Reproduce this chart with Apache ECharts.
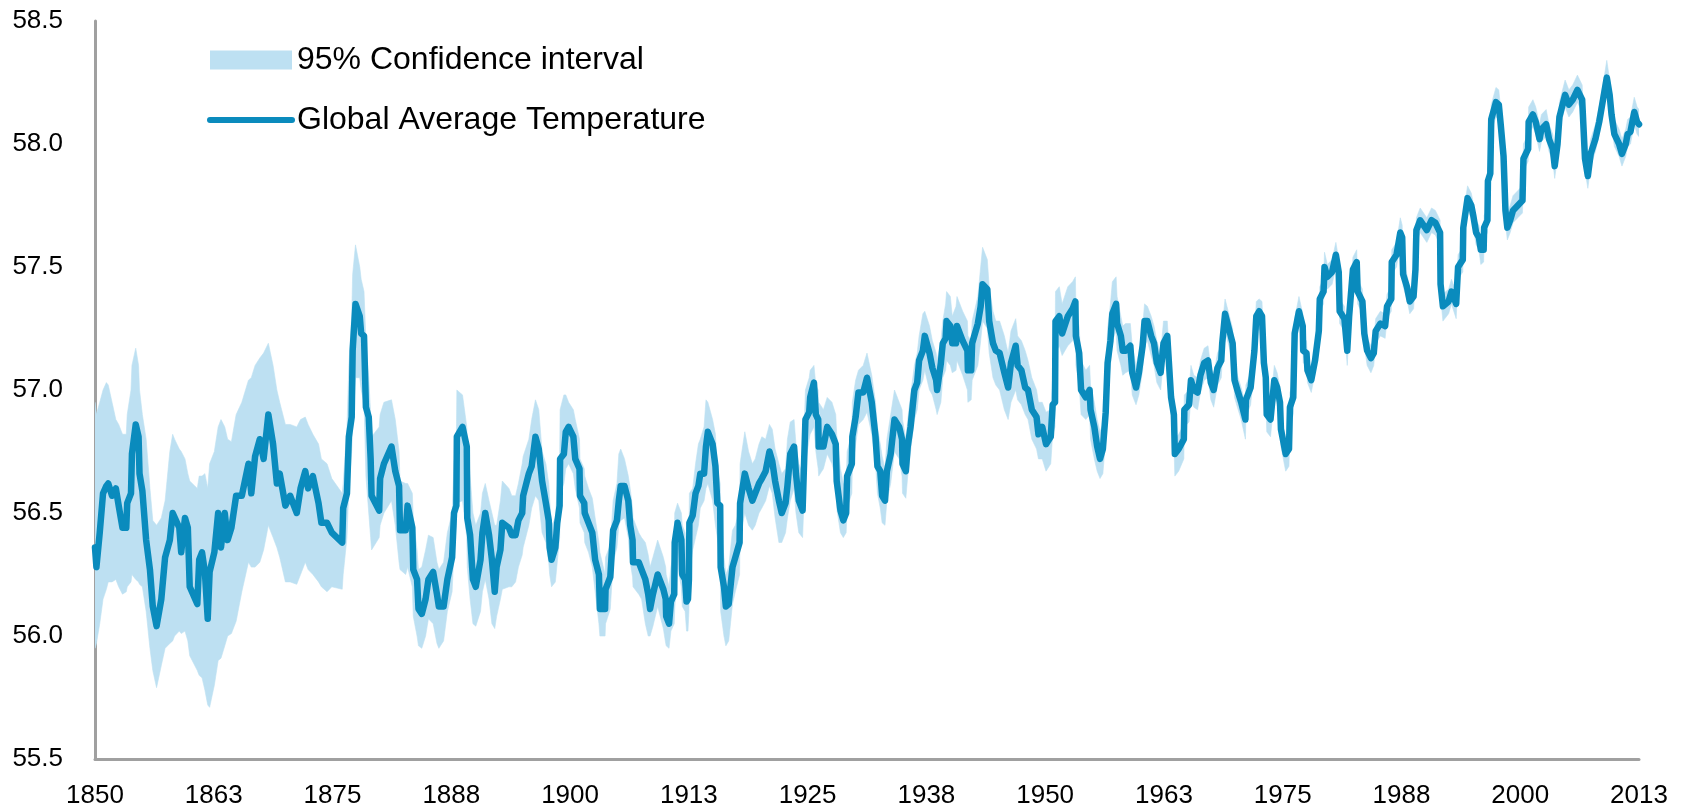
<!DOCTYPE html>
<html>
<head>
<meta charset="utf-8">
<script src="https://cdn.jsdelivr.net/npm/echarts@6/dist/echarts.min.js"></script>
<style>
html,body{margin:0;padding:0;background:#ffffff;}
#chart{width:1685px;height:810px;}
</style>
</head>
<body>
<div id="chart"></div>
<script>
// ---------------- DATA ----------------
const startYear = 1850;
const endYear = 2013;
const xTickLabels = ['1850','1863','1875','1888','1900','1913','1925','1938','1950','1963','1975','1988','2000','2013'];
const yTickLabels = ['55.5','56.0','56.5','57.0','57.5','58.0','58.5'];

const years = [
1850.0,1850.15,1850.5,1850.85,1851.2,1851.4,1851.8,1852.2,1852.5,1852.9,1853.3,1853.4,1853.8,1853.9,1854.3,1854.6,1854.7,1855.0,1855.4,1855.8,1856.1,1856.5,1857.0,1857.4,1857.9,1858.2,1858.4,1858.9,1859.1,1859.5,1859.8,1860.0,1860.8,1861.0,1861.3,1861.6,1861.9,1862.1,1862.6,1863.0,1863.3,1863.7,1864.0,1864.4,1864.9,
1865.5,1866.2,1866.5,1866.9,1867.4,1867.8,1868.3,1868.8,1869.2,1869.5,1870.1,1870.6,1871.3,1871.7,1872.2,1872.5,1873.0,1873.6,1873.9,1874.5,1875.0,1876.1,1876.2,1876.6,1876.8,1877.1,1877.2,1877.5,1877.95,1878.1,1878.4,1878.6,1878.9,1879.1,1879.2,1880.0,1880.1,1880.5,
1881.3,1881.7,1882.1,1882.2,1882.8,1883.0,1883.5,1883.6,1884.0,1884.15,1884.5,1884.9,1885.2,1885.7,1886.1,1886.3,1886.8,1887.2,1887.7,1887.9,1888.15,1888.2,1888.8,1889.25,1889.3,1889.6,1889.9,1890.2,1890.7,1890.9,1891.2,1891.6,1891.9,1892.2,1892.4,1892.8,1893.0,1893.7,1894.0,1894.4,1894.7,1895.1,1895.2,1895.8,1896.1,1896.5,1896.85,1897.2,1897.6,
1897.9,1898.0,1898.2,1898.6,1898.8,1899.05,1899.1,1899.5,1899.7,1900.0,1900.5,1900.7,1901.15,1901.2,1901.65,1901.7,1902.1,1902.5,1902.8,1903.2,1903.3,1903.85,1903.9,1904.4,1904.7,1905.1,1905.3,1905.5,1905.9,1906.3,1906.5,1906.75,1906.8,1907.4,1907.7,1908.1,1908.4,1908.6,1908.9,1909.4,1910.0,1910.25,1910.3,1910.6,1910.8,1911.15,1911.2,1911.5,1911.9,1912.0,1912.3,1912.45,1912.6,1912.7,1912.75,1913.1,
1913.4,1913.7,1913.9,1914.3,1914.5,1914.7,1915.2,1915.5,1915.7,1916.0,1916.05,1916.4,1916.6,1916.9,1917.3,1917.6,1918.05,1918.1,1918.6,1919.0,1919.4,1919.7,1920.1,1920.4,1920.8,1921.2,1921.5,1921.8,1922.2,1922.5,1922.9,1923.1,1923.4,1923.8,1924.0,1924.3,1924.7,1925.0,1925.4,1925.5,1925.9,1926.1,1926.35,1926.4,1926.9,1927.3,1927.8,1928.2,1928.3,1928.7,1929.0,1929.3,
1929.4,1929.9,1929.95,1930.3,1930.6,1931.1,1931.5,1932.0,1932.4,1932.6,1932.9,1933.1,1933.4,1933.6,1934.0,1934.4,1934.9,1935.2,1935.25,1935.6,1935.8,1936.1,1936.5,1936.8,1937.0,1937.4,1937.6,1938.1,1938.4,1938.8,1938.9,1939.3,1939.5,1939.8,1939.9,1940.3,1940.5,1940.9,1941.0,1941.6,1942.1,1942.15,1942.5,1942.6,1943.2,1943.5,1943.7,1944.2,1944.4,1944.8,1945.1,
1945.5,1946.0,1946.4,1946.7,1947.2,1947.4,1947.8,1948.2,1948.5,1948.9,1949.4,1949.6,1950.0,1950.4,1950.9,1951.1,1951.35,1951.4,1951.8,1952.1,1952.7,1953.2,1953.5,1953.55,1953.9,1954.1,1954.6,1955.0,1955.1,1955.5,1955.8,1956.1,1956.4,1956.7,1956.9,1957.2,1957.4,1957.8,1957.9,1958.3,1958.5,1958.8,1959.3,1959.5,1959.9,1960.2,1960.6,1960.8,
1961.1,1961.5,1961.8,1962.1,1962.5,1962.8,1963.2,1963.6,1963.9,1964.0,1964.4,1964.95,1965.0,1965.5,1965.7,1966.0,1966.4,1966.7,1967.1,1967.5,1967.8,1968.1,1968.5,1968.9,1969.0,1969.3,1969.7,1970.1,1970.3,1970.6,1971.0,1971.45,1971.5,1972.0,1972.4,1972.6,1972.9,1973.2,1973.4,1973.6,1973.7,1974.1,1974.5,1974.8,1975.1,1975.2,1975.7,1976.05,1976.15,1976.5,1976.65,
1977.1,1977.5,1977.55,1977.9,1978.0,1978.4,1978.8,1979.2,1979.3,1979.7,1979.8,1980.1,1980.6,1981.0,1981.3,1981.4,1981.9,1982.2,1982.4,1982.8,1983.2,1983.3,1983.8,1984.0,1984.3,1984.7,1985.0,1985.2,1985.7,1986.2,1986.4,1986.85,1986.9,1987.4,1987.8,1988.0,1988.1,1988.5,1988.8,1989.2,1989.4,1989.5,1989.9,1990.6,1991.1,1991.5,1992.0,1992.05,1992.3,1992.9,1993.2,1993.7,1993.9,1994.4,1994.45,1994.9,1995.3,1995.5,1995.8,1996.1,1996.3,1996.6,1996.65,
1997.0,1997.05,1997.3,1997.4,1997.9,1998.2,1998.4,1998.7,1998.9,1999.1,1999.4,1999.7,2000.2,2000.7,2000.8,2001.3,2001.35,2001.8,2002.1,2002.5,2002.7,2003.2,2003.5,2003.9,2004.1,2004.4,2004.6,2004.8,2005.2,2005.6,2006.0,2006.5,2007.0,2007.3,2007.6,2007.9,2008.4,2008.8,2009.2,2009.6,2009.9,2010.1,2010.4,2010.9,2011.2,2011.6,2011.8,2012.1,2012.5,2012.8,2013.0
];

const temps = [
56.36,56.28,56.42,56.58,56.61,56.62,56.57,56.60,56.53,56.44,56.44,56.54,56.58,56.74,56.86,56.81,56.66,56.59,56.39,56.27,56.12,56.04,56.15,56.32,56.39,56.50,56.50,56.44,56.34,56.48,56.44,56.20,56.13,56.31,56.34,56.26,56.07,56.26,56.34,56.50,56.36,56.50,56.39,56.44,56.57,
56.57,56.70,56.58,56.73,56.80,56.72,56.90,56.78,56.62,56.66,56.53,56.57,56.50,56.60,56.67,56.60,56.65,56.54,56.46,56.46,56.42,56.38,56.52,56.58,56.81,56.89,57.16,57.35,57.30,57.23,57.22,56.93,56.89,56.72,56.57,56.51,56.64,56.70,
56.77,56.67,56.61,56.43,56.43,56.53,56.44,56.27,56.23,56.11,56.09,56.15,56.23,56.26,56.17,56.12,56.12,56.23,56.32,56.50,56.53,56.81,56.85,56.77,56.48,56.41,56.23,56.20,56.31,56.42,56.50,56.41,56.31,56.18,56.28,56.35,56.46,56.44,56.41,56.41,56.47,56.50,56.57,56.66,56.69,56.81,56.76,56.63,56.54,
56.47,56.36,56.31,56.36,56.46,56.53,56.72,56.74,56.83,56.85,56.81,56.72,56.68,56.57,56.54,56.50,56.46,56.42,56.31,56.25,56.11,56.11,56.19,56.24,56.43,56.47,56.55,56.61,56.61,56.55,56.45,56.39,56.30,56.30,56.27,56.23,56.17,56.11,56.17,56.25,56.19,56.15,56.08,56.05,56.14,56.17,56.38,56.46,56.39,56.25,56.23,56.14,56.15,56.23,56.46,56.49,
56.58,56.61,56.66,56.66,56.77,56.83,56.78,56.69,56.54,56.53,56.28,56.20,56.12,56.13,56.28,56.32,56.38,56.54,56.66,56.60,56.55,56.58,56.62,56.64,56.67,56.75,56.71,56.63,56.55,56.50,56.54,56.61,56.74,56.77,56.66,56.55,56.51,56.88,56.91,56.97,57.03,56.90,56.88,56.77,56.77,56.85,56.82,56.78,56.63,56.51,56.47,56.50,
56.65,56.70,56.81,56.89,56.99,56.99,57.05,56.95,56.81,56.69,56.67,56.57,56.55,56.67,56.74,56.88,56.85,56.80,56.70,56.67,56.77,56.85,57.00,57.03,57.12,57.16,57.22,57.15,57.09,57.04,57.00,57.11,57.19,57.21,57.28,57.26,57.19,57.19,57.26,57.20,57.16,57.08,57.08,57.19,57.27,57.34,57.43,57.41,57.28,57.19,57.16,
57.15,57.07,57.01,57.11,57.18,57.10,57.08,57.01,57.00,56.92,56.89,56.82,56.85,56.78,56.81,56.94,56.95,57.28,57.30,57.23,57.30,57.33,57.36,57.22,57.15,57.00,56.97,57.00,56.92,56.85,56.77,56.72,56.76,56.91,57.11,57.20,57.31,57.35,57.27,57.22,57.16,57.16,57.18,57.07,57.01,57.07,57.18,57.28,
57.28,57.22,57.19,57.11,57.07,57.19,57.22,56.97,56.90,56.74,56.76,56.80,56.92,56.94,57.04,57.00,56.99,57.06,57.11,57.12,57.03,57.00,57.09,57.12,57.19,57.31,57.25,57.19,57.04,57.00,56.95,56.88,56.96,57.01,57.16,57.30,57.32,57.30,57.11,57.05,56.90,56.88,57.04,57.01,56.95,56.84,56.74,56.76,56.93,56.97,57.23,
57.32,57.26,57.16,57.15,57.08,57.04,57.12,57.24,57.37,57.40,57.50,57.46,57.48,57.55,57.48,57.32,57.29,57.16,57.30,57.49,57.52,57.40,57.36,57.23,57.16,57.13,57.15,57.24,57.27,57.26,57.34,57.37,57.52,57.55,57.64,57.62,57.47,57.42,57.36,57.38,57.49,57.65,57.69,57.65,57.69,57.68,57.64,57.43,57.34,57.36,57.40,57.35,57.50,57.53,57.66,57.78,57.75,57.71,57.64,57.62,57.57,57.57,57.66,
57.69,57.85,57.88,58.10,58.17,58.16,58.08,57.95,57.73,57.66,57.69,57.73,57.75,57.77,57.94,57.98,58.09,58.12,58.09,58.02,58.06,58.08,58.02,57.98,57.91,58.00,58.11,58.14,58.20,58.16,58.18,58.22,58.18,57.94,57.87,57.96,58.02,58.09,58.18,58.27,58.20,58.12,58.04,58.00,57.96,58.00,58.04,58.05,58.13,58.09,58.08
];

const ciLow = [
55.95,55.97,56.05,56.15,56.19,56.22,56.22,56.23,56.20,56.17,56.18,56.20,56.22,56.25,56.23,56.22,56.21,56.20,56.10,55.95,55.86,55.79,55.88,55.95,55.97,55.98,56.00,56.02,56.01,56.02,55.98,55.92,55.86,55.84,55.83,55.78,55.72,55.71,55.80,55.90,55.91,55.96,56.00,56.01,56.06,
56.18,56.30,56.28,56.28,56.30,56.35,56.45,56.40,56.36,56.32,56.22,56.22,56.21,56.25,56.30,56.27,56.25,56.22,56.20,56.18,56.20,56.19,56.25,56.40,56.60,56.75,56.85,57.05,57.05,57.00,56.95,56.65,56.50,56.40,56.35,56.40,56.45,56.50,
56.55,56.45,56.30,56.27,56.25,56.28,56.20,56.08,56.00,55.96,55.95,56.00,56.07,56.05,55.97,55.95,55.98,56.10,56.18,56.35,56.45,56.54,56.55,56.40,56.28,56.15,56.05,56.04,56.10,56.18,56.23,56.15,56.05,56.03,56.08,56.15,56.19,56.20,56.20,56.22,56.28,56.33,56.36,56.45,56.52,56.57,56.55,56.42,56.38,
56.30,56.25,56.20,56.22,56.30,56.40,56.58,56.62,56.68,56.70,56.66,56.60,56.52,56.46,56.42,56.38,56.34,56.28,56.18,56.05,56.00,56.00,56.05,56.11,56.30,56.36,56.45,56.47,56.48,56.40,56.30,56.24,56.20,56.17,56.15,56.05,56.00,56.00,56.04,56.12,56.03,55.97,55.96,55.95,56.02,56.05,56.11,56.28,56.20,56.12,56.10,56.02,56.02,56.10,56.25,56.35,
56.40,56.45,56.52,56.55,56.60,56.62,56.55,56.45,56.40,56.30,56.10,56.00,55.96,55.98,56.13,56.18,56.25,56.40,56.50,56.45,56.43,56.45,56.50,56.52,56.55,56.61,56.58,56.48,56.38,56.38,56.42,56.48,56.55,56.60,56.50,56.42,56.40,56.70,56.80,56.82,56.85,56.75,56.68,56.65,56.68,56.74,56.70,56.64,56.52,56.42,56.40,56.42,
56.52,56.58,56.68,56.78,56.86,56.88,56.91,56.82,56.70,56.58,56.52,56.46,56.45,56.55,56.62,56.75,56.72,56.65,56.58,56.56,56.65,56.75,56.88,56.92,57.00,57.04,57.08,57.00,56.98,56.92,56.90,56.95,57.05,57.08,57.12,57.10,57.07,57.08,57.12,57.06,57.00,56.95,56.96,57.04,57.10,57.20,57.28,57.25,57.15,57.05,57.02,
57.00,56.92,56.88,56.95,57.00,56.96,56.94,56.90,56.88,56.80,56.76,56.72,56.72,56.67,56.70,56.82,56.85,57.15,57.18,57.14,57.18,57.20,57.24,57.10,57.02,56.90,56.88,56.90,56.80,56.72,56.67,56.64,56.66,56.80,56.98,57.10,57.20,57.24,57.16,57.10,57.06,57.07,57.08,56.98,56.94,56.98,57.08,57.18,
57.20,57.14,57.10,57.03,57.00,57.12,57.14,56.90,56.78,56.65,56.67,56.72,56.85,56.87,56.97,56.93,56.92,56.99,57.04,57.05,56.96,56.93,57.02,57.05,57.12,57.24,57.18,57.12,56.97,56.93,56.88,56.80,56.89,56.94,57.09,57.23,57.25,57.23,57.04,56.98,56.83,56.81,56.97,56.94,56.88,56.77,56.67,56.69,56.86,56.90,57.16,
57.27,57.21,57.11,57.10,57.03,56.99,57.07,57.19,57.32,57.35,57.45,57.41,57.43,57.50,57.43,57.27,57.24,57.10,57.25,57.44,57.47,57.35,57.31,57.18,57.10,57.07,57.10,57.19,57.22,57.21,57.29,57.32,57.47,57.50,57.59,57.57,57.42,57.37,57.31,57.33,57.44,57.60,57.64,57.60,57.64,57.63,57.59,57.38,57.28,57.31,57.35,57.29,57.45,57.48,57.61,57.73,57.70,57.66,57.59,57.57,57.51,57.52,57.61,
57.64,57.80,57.83,58.05,58.11,58.10,58.02,57.90,57.68,57.61,57.64,57.68,57.70,57.72,57.89,57.93,58.04,58.07,58.04,57.97,58.01,58.03,57.97,57.93,57.86,57.95,58.06,58.09,58.15,58.11,58.13,58.17,58.13,57.89,57.82,57.91,57.97,58.04,58.13,58.22,58.15,58.07,57.99,57.95,57.91,57.95,57.99,58.00,58.08,58.04,58.03
];

const ciHigh = [
56.95,56.90,56.95,57.00,57.03,57.02,56.95,56.88,56.86,56.82,56.82,56.90,57.00,57.10,57.17,57.10,57.00,56.90,56.80,56.60,56.47,56.45,56.48,56.55,56.75,56.82,56.80,56.76,56.75,56.72,56.66,56.63,56.60,56.65,56.65,56.66,56.60,56.70,56.75,56.85,56.88,56.85,56.80,56.79,56.90,
56.95,57.04,57.05,57.10,57.13,57.15,57.19,57.10,57.00,56.95,56.86,56.86,56.85,56.88,56.89,56.86,56.82,56.78,56.72,56.70,56.64,56.58,56.62,56.85,57.10,57.30,57.47,57.59,57.50,57.45,57.40,57.20,57.05,56.90,56.81,56.85,56.90,56.95,
56.96,56.88,56.75,56.63,56.62,56.62,56.58,56.48,56.35,56.27,56.28,56.35,56.41,56.40,56.30,56.27,56.30,56.42,56.50,56.70,56.80,57.00,56.98,56.85,56.79,56.65,56.50,56.45,56.50,56.58,56.62,56.55,56.50,56.45,56.45,56.55,56.63,56.60,56.57,56.57,56.62,56.70,56.73,56.80,56.88,56.96,56.92,56.75,56.70,
56.62,56.55,56.45,56.48,56.60,56.70,56.92,56.98,56.98,56.95,56.92,56.88,56.80,56.72,56.68,56.65,56.60,56.56,56.48,56.38,56.34,56.25,56.32,56.37,56.55,56.62,56.74,56.76,56.72,56.65,56.60,56.52,56.48,56.42,56.40,56.38,56.33,56.28,56.32,56.39,56.32,56.28,56.25,56.20,56.28,56.35,56.50,56.54,56.50,56.45,56.42,56.30,56.32,56.40,56.58,56.60,
56.70,56.78,56.80,56.85,56.96,56.95,56.88,56.82,56.68,56.62,56.45,56.32,56.25,56.28,56.43,56.45,56.52,56.70,56.83,56.75,56.70,56.72,56.78,56.81,56.80,56.86,56.84,56.76,56.70,56.66,56.68,56.80,56.87,56.88,56.78,56.70,56.66,57.00,57.05,57.08,57.10,57.02,57.00,56.95,56.92,56.97,56.95,56.90,56.82,56.68,56.62,56.62,
56.75,56.82,56.95,57.04,57.08,57.10,57.15,57.06,56.95,56.85,56.78,56.73,56.68,56.80,56.90,57.00,56.95,56.92,56.88,56.80,56.88,56.98,57.10,57.15,57.22,57.31,57.32,57.26,57.20,57.15,57.12,57.20,57.28,57.35,57.40,57.38,57.30,57.34,57.38,57.32,57.28,57.22,57.20,57.28,57.38,57.50,57.58,57.53,57.42,57.32,57.28,
57.28,57.22,57.15,57.24,57.29,57.22,57.20,57.16,57.12,57.05,57.00,56.95,56.95,56.91,56.92,57.05,57.10,57.40,57.42,57.35,57.42,57.44,57.46,57.35,57.25,57.12,57.08,57.10,57.02,56.95,56.88,56.83,56.86,57.02,57.25,57.35,57.44,57.46,57.38,57.30,57.26,57.27,57.27,57.18,57.10,57.15,57.26,57.35,
57.34,57.30,57.26,57.20,57.15,57.28,57.28,57.04,56.96,56.80,56.82,56.86,56.98,57.00,57.10,57.06,57.05,57.12,57.17,57.18,57.09,57.06,57.15,57.18,57.26,57.37,57.31,57.25,57.10,57.06,57.01,56.94,57.02,57.07,57.22,57.36,57.37,57.36,57.17,57.11,56.96,56.94,57.10,57.07,57.01,56.90,56.80,56.82,56.99,57.03,57.29,
57.38,57.31,57.21,57.20,57.13,57.09,57.17,57.29,57.42,57.45,57.56,57.51,57.53,57.60,57.53,57.37,57.34,57.21,57.35,57.54,57.57,57.45,57.41,57.28,57.21,57.18,57.20,57.29,57.32,57.31,57.39,57.42,57.57,57.60,57.70,57.67,57.52,57.47,57.41,57.43,57.54,57.70,57.74,57.70,57.74,57.73,57.69,57.48,57.39,57.41,57.45,57.40,57.55,57.58,57.71,57.83,57.80,57.76,57.69,57.67,57.62,57.62,57.71,
57.74,57.90,57.94,58.16,58.23,58.22,58.14,58.01,57.79,57.72,57.75,57.79,57.81,57.83,58.00,58.04,58.15,58.18,58.15,58.08,58.12,58.14,58.08,58.04,57.97,58.06,58.17,58.20,58.26,58.22,58.24,58.28,58.24,58.00,57.93,58.02,58.08,58.15,58.24,58.34,58.26,58.18,58.10,58.06,58.02,58.06,58.10,58.11,58.19,58.15,58.14
];

// ---------------- CHART ----------------
const LINE_COLOR = '#0a8bbd';
const BAND_COLOR = '#bde0f2';
const span = endYear - startYear;

const n = Math.min(years.length, temps.length, ciLow.length, ciHigh.length);
const lineData = [];
const bandData = [];
for (let i = 0; i < n; i++) {
  const x = years[i] - startYear;
  lineData.push([x, temps[i]]);
  bandData.push([x, ciLow[i], ciHigh[i]]);
}

const chart = echarts.init(document.getElementById('chart'), null, {renderer: 'canvas'});
const FONT = '"Liberation Sans", Arial, Helvetica, sans-serif';

// the band is drawn once, as a polygon through the axis scales (api.coord)
function renderBand(params, api) {
  if (params.dataIndex !== 0) return null;
  const pts = [];
  for (let i = 0; i < bandData.length; i++) pts.push(api.coord([bandData[i][0], bandData[i][2]]));
  for (let i = bandData.length - 1; i >= 0; i--) pts.push(api.coord([bandData[i][0], bandData[i][1]]));
  return {
    type: 'polygon',
    shape: {points: pts},
    style: {fill: BAND_COLOR, stroke: BAND_COLOR, lineWidth: 0.6},
    silent: true
  };
}

chart.setOption({
  animation: false,
  backgroundColor: '#ffffff',
  grid: {left: 95, right: 46, top: 21, bottom: 51, containLabel: false},
  legend: {
    orient: 'vertical',
    left: 202,
    top: 37,
    itemWidth: 82,
    itemHeight: 19,
    itemGap: 24,
    selectedMode: false,
    textStyle: {fontFamily: FONT, fontSize: 32, color: '#000', lineHeight: 36},
    data: [
      {name: '95% Confidence interval', icon: 'rect', itemStyle: {color: BAND_COLOR}},
      {name: 'Global Average Temperature', itemStyle: {opacity: 0}, lineStyle: {width: 6, color: LINE_COLOR, cap: 'round'}}
    ]
  },
  xAxis: {
    type: 'value',
    min: 0,
    max: span,
    interval: span / 13,
    axisLine: {show: true, onZero: false, lineStyle: {color: '#a0a0a0', width: 3}},
    axisTick: {show: false},
    splitLine: {show: false},
    axisLabel: {
      fontFamily: FONT, fontSize: 26, color: '#000', margin: 24,
      showMinLabel: true, showMaxLabel: true,
      formatter: function (v, idx) { return xTickLabels[idx] !== undefined ? xTickLabels[idx] : String(Math.round(startYear + v)); }
    }
  },
  yAxis: {
    type: 'value',
    min: 55.5,
    max: 58.5,
    interval: 0.5,
    axisLine: {show: true, lineStyle: {color: '#a0a0a0', width: 3}},
    axisTick: {show: false},
    splitLine: {show: false},
    axisLabel: {
      fontFamily: FONT, fontSize: 26, color: '#000', margin: 32,
      formatter: function (v, idx) { return yTickLabels[idx] !== undefined ? yTickLabels[idx] : v.toFixed(1); }
    }
  },
  series: [
    {
      name: '95% Confidence interval', type: 'custom',
      data: bandData,
      encode: {x: 0, y: [1, 2]},
      renderItem: renderBand,
      itemStyle: {color: BAND_COLOR},
      clip: true,
      silent: true,
      z: 1
    },
    {
      name: 'Global Average Temperature', type: 'line', data: lineData,
      symbol: 'none', silent: true,
      itemStyle: {color: LINE_COLOR},
      lineStyle: {color: LINE_COLOR, width: 6.5, join: 'round', cap: 'round'},
      z: 3
    }
  ]
});
</script>
</body>
</html>
